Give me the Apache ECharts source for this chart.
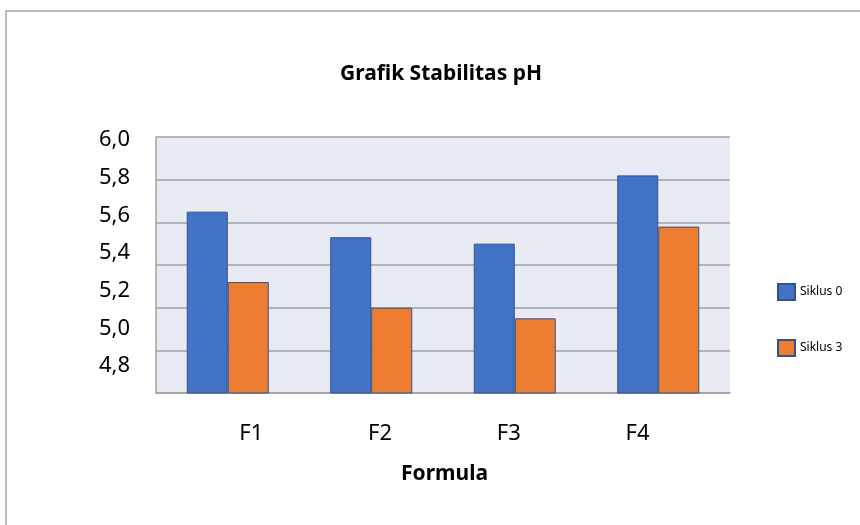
<!DOCTYPE html>
<html>
<head>
<meta charset="utf-8">
<script src="https://cdn.jsdelivr.net/npm/echarts@6/dist/echarts.min.js"></script>
<style>
html,body{margin:0;padding:0;background:#fff;}
#chart{width:860px;height:525px;}
</style>
</head>
<body>
<div id="chart"></div>
<script>
var categories = ['F1', 'F2', 'F3', 'F4'];
var siklus0 = [5.65, 5.53, 5.50, 5.82];
var siklus3 = [5.32, 5.20, 5.15, 5.58];
var seriesNames = ['Siklus 0', 'Siklus 3'];
var yMin = 4.8, yMax = 6.0, yStep = 0.2;
var titleText = 'Grafik Stabilitas pH';
var xTitle = 'Formula';

var FONT = '"Noto Sans", "Open Sans", sans-serif';
function fmt(v) { return v.toFixed(1).replace('.', ','); }

var chart = echarts.init(document.getElementById('chart'), null, {renderer: 'canvas'});
chart.setOption({
  backgroundColor: '#ffffff',
  animation: false,
  title: {
    text: titleText,
    left: 335, top: 59,
    textStyle: {fontFamily: FONT, fontSize: 21, fontWeight: 'bold', color: '#000'}
  },
  graphic: [{
    type: 'rect', shape: {x: 6, y: 11, width: 900, height: 600},
    style: {fill: null, stroke: '#a6a6a6', lineWidth: 1.5}, silent: true
  }],
  legend: {
    orient: 'vertical', left: 777, top: 283, padding: 0,
    itemWidth: 17, itemHeight: 16, itemGap: 38,
    icon: 'rect',
    textStyle: {fontFamily: FONT, fontSize: 12, color: '#000', padding: [0, 0, 8, 0]},
    data: seriesNames
  },
  grid: [
    {left: 156, right: 130, top: 137, bottom: 132, show: true, backgroundColor: '#e8eaf4', borderWidth: 0},
    {left: 156, right: 130, top: 140, bottom: 159, show: false},
    {left: 187, right: 158, top: 137, bottom: 132, show: false}
  ],
  xAxis: [
    {gridIndex: 0, type: 'category', data: categories,
     axisLine: {show: true, lineStyle: {color: '#a0a0a0', width: 1.5}},
     axisTick: {show: false}, axisLabel: {show: false}},
    {gridIndex: 1, type: 'category', data: categories, show: false},
    {gridIndex: 2, type: 'category', data: categories,
     axisLine: {show: false}, axisTick: {show: false},
     axisLabel: {fontFamily: FONT, fontSize: 22, color: '#000', margin: 30},
     name: xTitle, nameLocation: 'middle', nameGap: 71,
     nameTextStyle: {fontFamily: FONT, fontSize: 21, fontWeight: 'bold', color: '#000'}}
  ],
  yAxis: [
    {gridIndex: 0, type: 'value', min: yMin, max: yMax, interval: yStep,
     axisLine: {show: true, lineStyle: {color: '#a0a0a0', width: 1.5}},
     axisTick: {show: false}, axisLabel: {show: false},
     splitLine: {show: true, lineStyle: {color: '#a0a0a0', width: 1.5}}},
    {gridIndex: 1, type: 'value', min: yMin, max: yMax, interval: yStep,
     axisLine: {show: false}, axisTick: {show: false}, splitLine: {show: false},
     axisLabel: {fontFamily: FONT, fontSize: 22, color: '#000', margin: 26, formatter: fmt}},
    {gridIndex: 2, type: 'value', min: yMin, max: yMax, show: false}
  ],
  series: [
    {name: seriesNames[0], type: 'bar', xAxisIndex: 0, yAxisIndex: 0, data: siklus0,
     barWidth: 41, barGap: '0%',
     itemStyle: {color: '#4472c4', borderColor: '#2f528f', borderWidth: 1}},
    {name: seriesNames[1], type: 'bar', xAxisIndex: 0, yAxisIndex: 0, data: siklus3,
     barWidth: 41, barGap: '0%',
     itemStyle: {color: '#ed7d31', borderColor: '#2f528f', borderWidth: 1}}
  ]
});
</script>
</body>
</html>
